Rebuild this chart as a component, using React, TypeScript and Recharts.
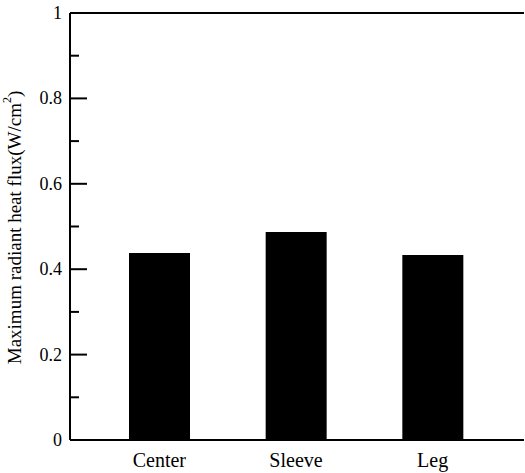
import React from "react";
import { BarChart, Bar, XAxis, YAxis, Label, CartesianGrid } from "recharts";

const categories = ["Center", "Sleeve", "Leg"];
const fluxValues = [0.438, 0.487, 0.433];
const yTicks = [0, 0.1, 0.2, 0.3, 0.4, 0.5, 0.6, 0.7, 0.8, 0.9, 1];
const majorTickLabels: Record<string, string> = { "0": "0", "0.2": "0.2", "0.4": "0.4", "0.6": "0.6", "0.8": "0.8", "1": "1" };

const data = categories.map((c, i) => ({ name: c, value: fluxValues[i] }));

const FONT = "'Liberation Serif', 'Times New Roman', serif";

const YTick = (props: any) => {
  const { x, y, payload } = props;
  const key = String(Math.round(payload.value * 10) / 10);
  const label = majorTickLabels[key];
  const isMajor = label !== undefined;
  const ax = x + 8;
  return (
    <g>
      <line x1={ax} y1={y} x2={ax + (isMajor ? 17 : 9)} y2={y} stroke="#000" strokeWidth={2} />
      {isMajor && (
        <text x={x} y={y} textAnchor="end" dominantBaseline="central" fontFamily={FONT} fontSize={18} fill="#000">
          {label}
        </text>
      )}
    </g>
  );
};

const YLabel = (props: any) => {
  const vb = props.viewBox || { x: 0, y: 13, width: 70, height: 427 };
  const cx = vb.x + 14;
  const cy = vb.y + vb.height / 2 + 1;
  return (
    <text
      x={cx}
      y={cy}
      transform={`rotate(-90, ${cx}, ${cy})`}
      textAnchor="middle"
      dominantBaseline="central"
      fontFamily={FONT}
      fontSize={19}
      fill="#000"
    >
      Maximum radiant heat flux(W/cm
      <tspan dy={-7} fontSize={12}>2</tspan>
      <tspan dy={7}>)</tspan>
    </text>
  );
};

export default function App() {
  return (
    <div style={{ position: "absolute", left: 0, top: 0, width: 525, height: 473, background: "#fff" }}>
      <BarChart width={525} height={473} data={data} margin={{ top: 13, right: 1, bottom: 0, left: 0 }}>
        <CartesianGrid
          vertical={false}
          stroke="#000"
          strokeWidth={2}
          horizontalCoordinatesGenerator={(p: any) => [p.offset.top]}
        />
        <XAxis
          dataKey="name"
          height={33}
          padding={{ left: 21, right: 23 }}
          axisLine={{ stroke: "#000", strokeWidth: 2 }}
          tickLine={false}
          tickSize={0}
          tickMargin={13}
          tick={{ fontFamily: FONT, fontSize: 20, fill: "#000" }}
          interval={0}
        />
        <YAxis
          width={70}
          domain={[0, 1]}
          ticks={yTicks}
          interval={0}
          axisLine={{ stroke: "#000", strokeWidth: 2 }}
          tickLine={false}
          tickSize={0}
          tickMargin={8}
          tick={<YTick />}
        >
          <Label content={<YLabel />} />
        </YAxis>
        <Bar dataKey="value" fill="#000" barSize={61} isAnimationActive={false} />
      </BarChart>
    </div>
  );
}
